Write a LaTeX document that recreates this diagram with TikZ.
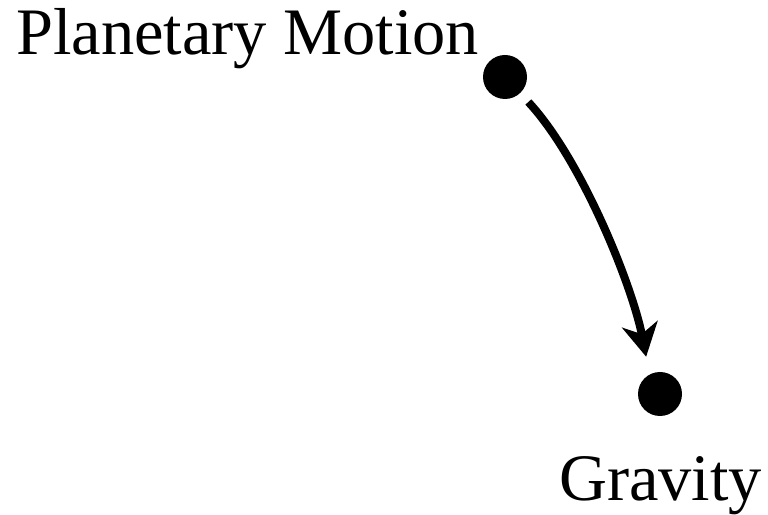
\documentclass[tikz,border=0pt]{standalone}
\usepackage{fontspec}
\setmainfont{Liberation Serif}
\usetikzlibrary{arrows.meta}
\begin{document}
\begin{tikzpicture}[x=1pt,y=1pt,
  dot/.style={circle,fill=black,minimum size=44pt,inner sep=0pt},
  lbl/.style={inner sep=0pt,anchor=base west,font=\fontsize{66.4}{80}\selectfont},
  arr/.style={line width=8pt,-{Stealth[length=33pt,width=36pt,inset=10pt]}}]
\useasboundingbox (0,0) rectangle (768,514);
\node[dot] (a) at (505,437) {};
\node[dot] (b) at (660,120) {};
\node[lbl] (t1) at (16,459) {Planetary Motion};
\node[lbl] (t2) at (559,14) {Gravity};
\draw[arr,shorten <=12pt,shorten >=18pt] (a.-47) .. controls +(-47:90) and +(101:90) .. (b.118);
\end{tikzpicture}
\end{document}
